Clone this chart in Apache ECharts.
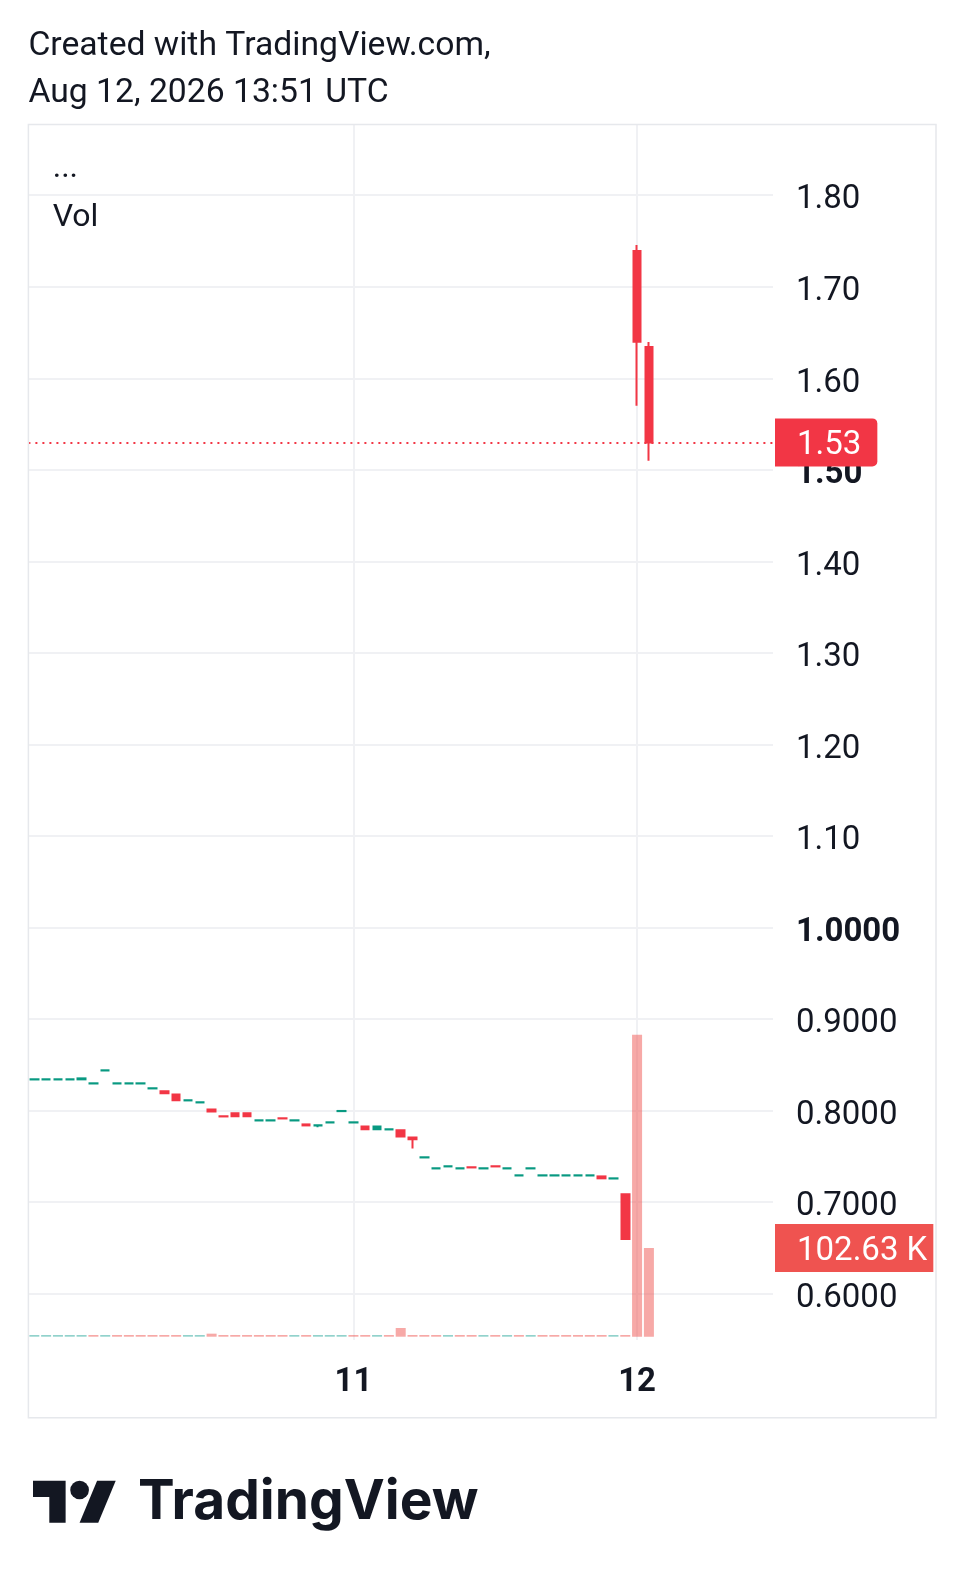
<!DOCTYPE html>
<html>
<head>
<meta charset="utf-8">
<script src="https://cdn.jsdelivr.net/npm/echarts@6/dist/echarts.min.js"></script>
<style>
html,body{margin:0;padding:0;background:#ffffff;}
#chart{width:964px;height:1587px;}
</style>
</head>
<body>
<div id="chart"></div>
<script>
// ---- hourly categories (last 10 are empty future slots on the time scale)
const times = [
'08-09 21:00','08-09 22:00','08-09 23:00',
'08-10 00:00','08-10 01:00','08-10 02:00','08-10 03:00','08-10 04:00','08-10 05:00',
'08-10 06:00','08-10 07:00','08-10 08:00','08-10 09:00','08-10 10:00','08-10 11:00',
'08-10 12:00','08-10 13:00','08-10 14:00','08-10 15:00','08-10 16:00','08-10 17:00',
'08-10 18:00','08-10 19:00','08-10 20:00','08-10 21:00','08-10 22:00','08-10 23:00',
'08-11 00:00','08-11 01:00','08-11 02:00','08-11 03:00','08-11 04:00','08-11 05:00',
'08-11 06:00','08-11 07:00','08-11 08:00','08-11 09:00','08-11 10:00','08-11 11:00',
'08-11 12:00','08-11 13:00','08-11 14:00','08-11 15:00','08-11 16:00','08-11 17:00',
'08-11 18:00','08-11 19:00','08-11 20:00','08-11 21:00','08-11 22:00','08-11 23:00',
'08-12 00:00','08-12 01:00',
'08-12 02:00','08-12 03:00','08-12 04:00','08-12 05:00','08-12 06:00','08-12 07:00',
'08-12 08:00','08-12 09:00','08-12 10:00','08-12 11:00'
];
// time-axis tick labels shown in the chart
const dayTicks = ['08-11 00:00', '08-12 00:00'];
const dayLabels = ['11', '12'];

// ---- OHLC values
const opens = [
0.8341,0.8341,0.8341,0.8341,0.8342,0.8297,0.8439,0.8297,0.8297,0.8297,
0.8243,0.8211,0.8178,0.8112,0.8090,0.8014,0.7939,0.7971,0.7971,0.7893,
0.7893,0.7917,0.7893,0.7850,0.7838,0.7871,0.7995,0.7871,0.7828,0.7796,
0.7795,0.7785,0.7708,0.7489,0.7369,0.7391,0.7369,0.7382,0.7369,0.7393,
0.7369,0.7292,0.7369,0.7292,0.7292,0.7292,0.7292,0.7292,0.7282,0.7259,
0.7086,1.7390,1.6341];
const closes = [
0.8343,0.8343,0.8343,0.8343,0.8353,0.8299,0.8441,0.8299,0.8299,0.8299,
0.8245,0.8189,0.8113,0.8114,0.8092,0.7992,0.7937,0.7938,0.7938,0.7895,
0.7895,0.7915,0.7895,0.7839,0.7840,0.7873,0.7997,0.7873,0.7796,0.7828,
0.7797,0.7719,0.7687,0.7491,0.7371,0.7393,0.7371,0.7380,0.7371,0.7391,
0.7371,0.7294,0.7371,0.7294,0.7294,0.7294,0.7294,0.7294,0.7261,0.7261,
0.6598,1.6399,1.5300];
const lows = [
0.8341,0.8341,0.8341,0.8341,0.8342,0.8297,0.8439,0.8297,0.8297,0.8297,
0.8243,0.8189,0.8113,0.8112,0.8090,0.7992,0.7937,0.7938,0.7938,0.7893,
0.7893,0.7915,0.7893,0.7839,0.7818,0.7871,0.7995,0.7871,0.7796,0.7796,
0.7795,0.7719,0.7588,0.7489,0.7369,0.7391,0.7369,0.7380,0.7369,0.7391,
0.7369,0.7292,0.7369,0.7292,0.7292,0.7292,0.7292,0.7292,0.7261,0.7259,
0.6598,1.5700,1.5100];
const highs = [
0.8343,0.8343,0.8343,0.8343,0.8353,0.8299,0.8441,0.8299,0.8299,0.8299,
0.8245,0.8211,0.8178,0.8114,0.8092,0.8014,0.7939,0.7971,0.7971,0.7895,
0.7895,0.7917,0.7895,0.7850,0.7840,0.7873,0.7997,0.7873,0.7828,0.7828,
0.7797,0.7785,0.7708,0.7491,0.7371,0.7393,0.7371,0.7382,0.7371,0.7393,
0.7371,0.7294,0.7371,0.7294,0.7294,0.7294,0.7294,0.7294,0.7282,0.7261,
0.7086,1.7455,1.6396];

// ---- volume values and their colour direction (1 = up/teal, 0 = down/red)
const volumes = [
2000,2000,2000,2000,2000,2000,2000,2000,2000,2000,
2000,2000,2000,2000,2000,3500,2000,2000,2000,2000,
2000,2000,2000,2000,2000,2000,2000,2000,2000,2000,
2000,10100,2000,2000,2000,2000,2000,2000,2000,2000,
2000,2000,2000,2000,2000,2000,2000,2000,2000,2000,
2000,349400,102630];
const volUp = [
1,1,1,1,1,0,1,0,0,0,
0,0,0,1,1,0,0,0,0,0,
0,0,1,0,1,1,1,0,0,1,
0,0,0,0,0,1,0,0,1,0,
1,0,1,0,0,0,0,0,0,1,
0,0,0];

// ---- axis settings
const priceMin = 0.5495, priceMax = 1.8767, priceStep = 0.1;
const boldTicks = [1.5, 1.0];
const volMax = 360000;

// ---- styles
const UP = '#089981', DOWN = '#f23645';
const VOL_UP = 'rgba(38,166,154,0.5)', VOL_DOWN = 'rgba(239,83,80,0.5)';
const GRID = '#f0f1f4', FRAME = '#e6e8ec', TEXT = '#131722';
const FONT = 'Roboto';

const candleData = opens.map((o, i) => [o, closes[i], lows[i], highs[i]]);
const volData = volumes.map((v, i) => ({ value: v, itemStyle: { color: volUp[i] ? VOL_UP : VOL_DOWN } }));
const lastClose = closes[closes.length - 1];
const lastVol = volumes[volumes.length - 1];
const isDayTick = (idx, val) => dayTicks.indexOf(String(val)) >= 0;
const tagRich = { t: { color: '#ffffff', fontSize: 33, lineHeight: 32, fontFamily: FONT } };

// TradingView logo mark (36 x 28 unit design), scaled
const LS = 2.33, LX = 33, LY = 1480.7 - 4 * LS;
const lp = pts => pts.map(p => [LX + p[0] * LS, LY + p[1] * LS]);

const chart = echarts.init(document.getElementById('chart'), null, { renderer: 'canvas' });
chart.setOption({
  animation: false,
  backgroundColor: '#ffffff',
  grid: [
    { left: 28.4, right: 191, top: 125, bottom: 247 },
    { left: 28.4, right: 191, top: 1025.6, bottom: 250.3 }
  ],
  xAxis: [
    {
      type: 'category', gridIndex: 0, data: times, boundaryGap: true,
      axisLine: { show: false }, axisTick: { show: false },
      axisLabel: {
        interval: isDayTick, formatter: v => dayLabels[dayTicks.indexOf(v)] || '',
        fontSize: 33, fontWeight: 'bold', fontFamily: FONT, color: TEXT,
        margin: 43, verticalAlign: 'middle'
      },
      splitLine: { show: true, interval: isDayTick, alignWithLabel: true, lineStyle: { color: GRID, width: 2 } }
    },
    {
      type: 'category', gridIndex: 1, data: times, boundaryGap: true, show: false
    }
  ],
  yAxis: [
    {
      type: 'value', gridIndex: 0, position: 'right', scale: true,
      min: priceMin, max: priceMax, minInterval: priceStep, maxInterval: priceStep,
      axisLine: { show: false }, axisTick: { show: false },
      splitLine: { show: true, showMinLine: false, showMaxLine: false, lineStyle: { color: GRID, width: 2 } },
      axisLabel: {
        showMinLabel: false, showMaxLabel: false, margin: 23,
        fontSize: 33, fontFamily: FONT, color: TEXT, padding: [10, 0, 0, 0],
        formatter: v => {
          const s = v >= 1.05 ? v.toFixed(2) : v.toFixed(4);
          return boldTicks.some(b => Math.abs(b - v) < 1e-6) ? '{b|' + s + '}' : s;
        },
        rich: { b: { fontSize: 33, fontFamily: FONT, fontWeight: 'bold', color: TEXT } }
      }
    },
    { type: 'value', gridIndex: 1, min: 0, max: volMax, show: false }
  ],
  series: [
    {
      type: 'bar', xAxisIndex: 1, yAxisIndex: 1, data: volData, barWidth: 10, z: 1,
      markLine: {
        symbol: ['none', 'none'], silent: true, animation: false,
        data: [{
          yAxis: lastVol,
          lineStyle: { color: 'rgba(0,0,0,0)', width: 0 },
          label: {
            show: true, position: 'end', distance: 2,
            formatter: '{t|' + (lastVol / 1000).toFixed(2) + ' K}', rich: tagRich,
            color: '#ffffff', backgroundColor: '#ef5350',
            padding: [12, 6, 4, 22], fontSize: 33, lineHeight: 32, fontFamily: FONT
          }
        }]
      }
    },
    {
      type: 'candlestick', xAxisIndex: 0, yAxisIndex: 0, data: candleData, barWidth: 8, z: 3,
      itemStyle: { color: UP, color0: DOWN, borderColor: UP, borderColor0: DOWN, borderWidth: 2 },
      markLine: {
        symbol: ['none', 'none'], silent: true, animation: false,
        data: [{
          yAxis: lastClose,
          lineStyle: { color: DOWN, type: [2, 5], width: 2 },
          label: {
            show: true, position: 'end', distance: 2,
            formatter: '{t|' + lastClose.toFixed(2) + '}', rich: tagRich,
            color: '#ffffff', backgroundColor: DOWN,
            padding: [11, 16, 5, 22], borderRadius: [0, 5, 5, 0],
            fontSize: 33, lineHeight: 32, fontFamily: FONT
          }
        }]
      }
    }
  ],
  graphic: [
    { type: 'rect', z: 100, silent: true, shape: { x: 28.4, y: 124.5, width: 907.6, height: 1293.2 },
      style: { fill: 'none', stroke: FRAME, lineWidth: 1.5 } },
    { type: 'text', left: 28.4, top: 30, silent: true,
      style: { text: 'Created with TradingView.com,', font: '33.7px Roboto', fill: TEXT } },
    { type: 'text', left: 28.4, top: 77, silent: true,
      style: { text: 'Aug 12, 2026 13:51 UTC', font: '33.7px Roboto', fill: TEXT } },
    { type: 'text', left: 52.7, top: 153, silent: true,
      style: { text: '...', font: '32px Roboto', fill: TEXT } },
    { type: 'text', left: 52.7, top: 202, silent: true,
      style: { text: 'Vol', font: '32px Roboto', fill: TEXT } },
    { type: 'polygon', silent: true,
      shape: { points: lp([[0,4],[14,4],[14,22],[7,22],[7,11],[0,11]]) },
      style: { fill: TEXT } },
    { type: 'circle', silent: true, shape: { cx: LX + 20 * LS, cy: LY + 8 * LS, r: 4 * LS }, style: { fill: TEXT } },
    { type: 'polygon', silent: true,
      shape: { points: lp([[27.5,4],[35.5,4],[28,22],[20,22]]) },
      style: { fill: TEXT } },
    { type: 'text', left: 138, top: 1475, silent: true,
      style: { text: 'TradingView', font: '700 55px Inter', fill: TEXT } }
  ]
});
</script>
</body>
</html>
